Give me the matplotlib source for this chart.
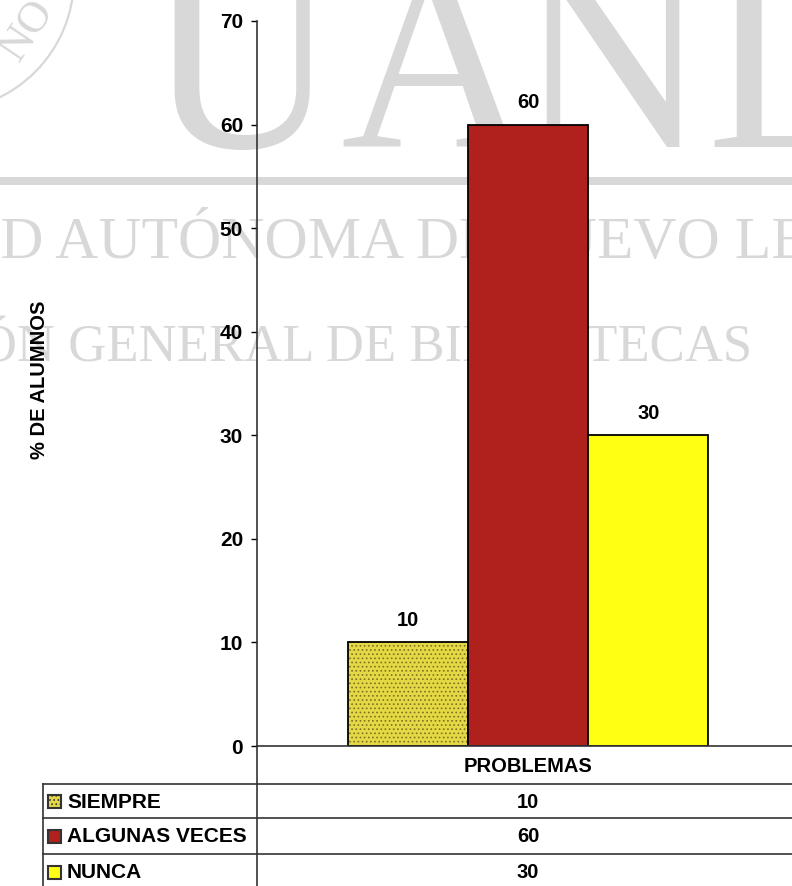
import matplotlib.pyplot as plt
from matplotlib.patches import Circle, Rectangle

# datos de la grafica
categoria = "PROBLEMAS"
series = ["SIEMPRE", "ALGUNAS VECES", "NUNCA"]
valores = [10, 60, 30]
ticks_y = [0, 10, 20, 30, 40, 50, 60, 70]
etiqueta_y = "% DE ALUMNOS"

colores = ["#e4d844", "#b0201d", "#ffff14"]
tramas = ["....", None, None]
color_trama = "#7d7220"

plt.rcParams["font.family"] = "Liberation Sans"
plt.rcParams["font.weight"] = "bold"
plt.rcParams["hatch.linewidth"] = 0.7

W, H = 792, 886
fig = plt.figure(figsize=(W / 100, H / 100), dpi=100)

# capa de fondo en pixeles (marca de agua + tabla)
bg = fig.add_axes([0, 0, 1, 1], zorder=0)
bg.set_xlim(0, W)
bg.set_ylim(H, 0)
bg.axis("off")

gris = "#d8d8d8"
serif = "Liberation Serif"
for letra, x, ha in [("U", 242, "center"), ("A", 436, "center"),
                     ("N", 612, "center"), ("L", 706, "left")]:
    bg.text(x, 147, letra, fontsize=190, family=serif, color=gris,
            ha=ha, va="baseline", fontweight="normal")
bg.add_patch(Rectangle((0, 177), W, 8, color=gris, lw=0))

linea2 = bg.text(0, 258, "UNIVERSIDAD AUTÓNOMA DE NUEVO LEÓN", fontsize=43,
                 family=serif, color=gris, ha="left", va="baseline",
                 fontweight="normal")
r = fig.canvas.get_renderer()
pre = bg.text(0, 258, "UNIVERSIDA", fontsize=43, family=serif,
              fontweight="normal")
linea2.set_x(-pre.get_window_extent(r).width)
pre.remove()

bg.text(752, 362, "DIRECCIÓN GENERAL DE BIBLIOTECAS", fontsize=38,
        family=serif, color=gris, ha="right", va="baseline",
        fontweight="normal")

# sello
bg.add_patch(Circle((-59, -22), 133, fill=False, ec=gris, lw=1.6))
bg.text(28, 30, "NO", fontsize=32, family=serif, color=gris, rotation=56,
        ha="center", va="center", fontweight="normal")

# tabla de datos
x0, xdiv = 43, 257
filas = [784, 818, 854, 890]
for y in filas:
    bg.plot([x0, W], [y, y], color="#333333", lw=1.2)
bg.plot([x0, x0], [filas[0], H], color="#333333", lw=1.2)
bg.plot([xdiv, xdiv], [746, H], color="#333333", lw=1.2)
bg.text((xdiv + 799) / 2, 766, categoria, fontsize=14.5, ha="center",
        va="center")
for i, (s, v) in enumerate(zip(series, valores)):
    yc = (filas[i] + filas[i + 1]) / 2 + 1
    bg.add_patch(Rectangle((48, yc - 7), 13, 13, facecolor=colores[i],
                           edgecolor="#333333", lw=1.5, hatch=tramas[i]))
    bg.text(67, yc, s, fontsize=15, ha="left", va="center")
    bg.text((xdiv + 799) / 2, yc, str(v), fontsize=14.5, ha="center",
            va="center")

# grafica de barras
ax = fig.add_axes([257 / W, 1 - 746 / H, (799 - 257) / W, (746 - 21) / H],
                  zorder=2)
ax.patch.set_alpha(0)
ancho = 0.222
for i, v in enumerate(valores):
    x = (i - 1) * ancho
    if tramas[i]:
        ax.bar(x, v, width=ancho, color=colores[i], hatch=tramas[i],
               edgecolor=color_trama, lw=0)
        ax.bar(x, v, width=ancho, fill=False, edgecolor="black", lw=1.3)
    else:
        ax.bar(x, v, width=ancho, color=colores[i], edgecolor="black", lw=1.3)
    ax.annotate(str(v), (x, v), xytext=(0, 9), textcoords="offset points",
                ha="center", va="bottom", fontsize=14.5)

ax.set_xlim(-0.5, 0.5)
ax.set_ylim(0, 70)
ax.set_yticks(ticks_y)
ax.set_xticks([])
ax.tick_params(axis="y", length=4, width=1, labelsize=15, pad=6)
for lab in ax.get_yticklabels():
    lab.set_fontweight("bold")
for lado in ["top", "right"]:
    ax.spines[lado].set_visible(False)
ax.spines["left"].set_color("#333333")
ax.spines["bottom"].set_color("#333333")
ax.spines["left"].set_linewidth(1.2)
ax.spines["bottom"].set_linewidth(1.2)

fig.text(40 / W, 1 - 380 / H, etiqueta_y, rotation=90, fontsize=14.5,
         ha="center", va="center")

fig.savefig("out.png", dpi=100)
